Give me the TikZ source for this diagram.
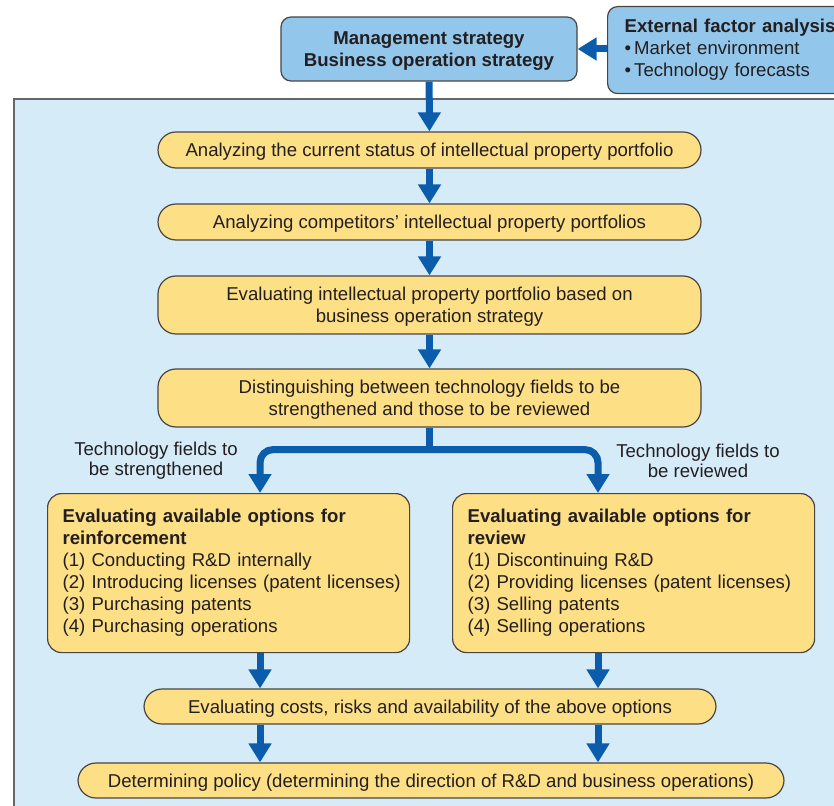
\documentclass[tikz,border=0pt]{standalone}
\usepackage{fontspec}
\setmainfont{Liberation Sans}
\usetikzlibrary{arrows.meta,positioning,calc}

\definecolor{boxyellow}{HTML}{FDDF86}
\definecolor{panelblue}{HTML}{D5EBF8}
\definecolor{topblue}{HTML}{93C6EB}
\definecolor{flowblue}{HTML}{0B5DAC}
\definecolor{edgegray}{HTML}{4A4444}
\definecolor{inkgray}{HTML}{231F20}

\tikzset{
    stepbox/.style={draw=edgegray,fill=boxyellow,line width=0.6pt,rounded corners=9pt,
        align=center,minimum width=271.5pt,minimum height=18pt,inner sep=2pt,text depth=0pt},
    optbox/.style={draw=edgegray,fill=boxyellow,line width=0.6pt,rounded corners=7pt,
        align=left,anchor=north west,text width=166pt,inner xsep=7.5pt,
        minimum width=181pt,minimum height=79.5pt},
    topbox/.style={draw=edgegray,fill=topblue,line width=0.6pt,rounded corners=5pt},
    flow/.style={draw=flowblue,line width=3.5pt,-{Triangle[width=11pt,length=9.5pt]}},
    flowline/.style={draw=flowblue,line width=3.5pt},
    fieldlbl/.style={align=center,font=\fontsize{9.3}{10}\selectfont}
}

\begin{document}
\begin{tikzpicture}[x=0.5pt,y=-0.5pt,
    every node/.style={font=\fontsize{9.3}{11}\selectfont,text=inkgray}]
    \useasboundingbox (0,0) rectangle (834,806);
    \clip (0,0) rectangle (834,806);

    % background panel
    \draw[draw=gray!80!black,fill=panelblue,line width=0.8pt] (14,99) rectangle (900,900);

    % strategy inputs
    \node[topbox,minimum width=148pt,minimum height=32pt,align=center,text depth=0pt,
        font=\fontsize{9.3}{11}\selectfont\bfseries]
        (mgmt) at (429,49) {Management strategy\\Business operation strategy};
    \node[topbox,anchor=north west,minimum height=43.5pt,text width=115pt,inner xsep=8.5pt,align=left]
        (ext) at (607,6) {\textbf{External factor analysis}\\\textbullet\,Market environment\\\textbullet\,Technology forecasts};

    % analysis steps
    \node[stepbox] (cur) at (429.5,150) {Analyzing the current status of intellectual property portfolio};
    \node[stepbox] (comp) at (429.5,222) {Analyzing competitors' intellectual property portfolios};
    \node[stepbox,minimum height=29pt] (evalb) at (429.5,305)
        {Evaluating intellectual property portfolio based on\\business operation strategy};
    \node[stepbox,minimum height=29pt] (dist) at (429.5,398)
        {Distinguishing between technology fields to be\\strengthened and those to be reviewed};

    \node[fieldlbl] (lstr) at (156,461) {Technology fields to\\be strengthened};
    \node[fieldlbl] (lrev) at (698,461) {Technology fields to\\be reviewed};

    % options
    \node[optbox] (reinf) at (47,493) {\textbf{Evaluating available options for}\\\textbf{reinforcement}\\
        (1) Conducting R\&D internally\\\mbox{(2) Introducing licenses (patent licenses)}\\
        (3) Purchasing patents\\(4) Purchasing operations};
    \node[optbox] (review) at (452,493) {\textbf{Evaluating available options for}\\\textbf{review}\\
        (1) Discontinuing R\&D\\\mbox{(2) Providing licenses (patent licenses)}\\
        (3) Selling patents\\(4) Selling operations};

    \node[stepbox,minimum width=286pt,minimum height=17.5pt] (cost) at (430,706.5)
        {Evaluating costs, risks and availability of the above options};
    \node[stepbox,minimum width=353pt,minimum height=17.5pt] (policy) at (431,780.5)
        {Determining policy (determining the direction of R\&D and business operations)};

    % connectors
    \coordinate (lc) at (260,0);
    \coordinate (rc) at (598,0);
    \coordinate (split) at ($(dist.south)+(0,22)$);

    \draw[flow] (ext.west |- mgmt) -- (mgmt.east);
    \draw[flow] (mgmt) -- (cur);
    \draw[flow] (cur) -- (comp);
    \draw[flow] (comp) -- (evalb);
    \draw[flow] (evalb) -- (dist);
    \draw[flowline] (dist.south) -- (split);
    \draw[flow,{Triangle[width=11pt,length=9.5pt]}-{Triangle[width=11pt,length=9.5pt]},rounded corners=6.5pt]
        (reinf.north -| lc) |- (split) -| (review.north -| rc);
    \draw[flow] (reinf.south -| lc) -- (cost.north -| lc);
    \draw[flow] (review.south -| rc) -- (cost.north -| rc);
    \draw[flow] (cost.south -| lc) -- (policy.north -| lc);
    \draw[flow] (cost.south -| rc) -- (policy.north -| rc);
\end{tikzpicture}
\end{document}
